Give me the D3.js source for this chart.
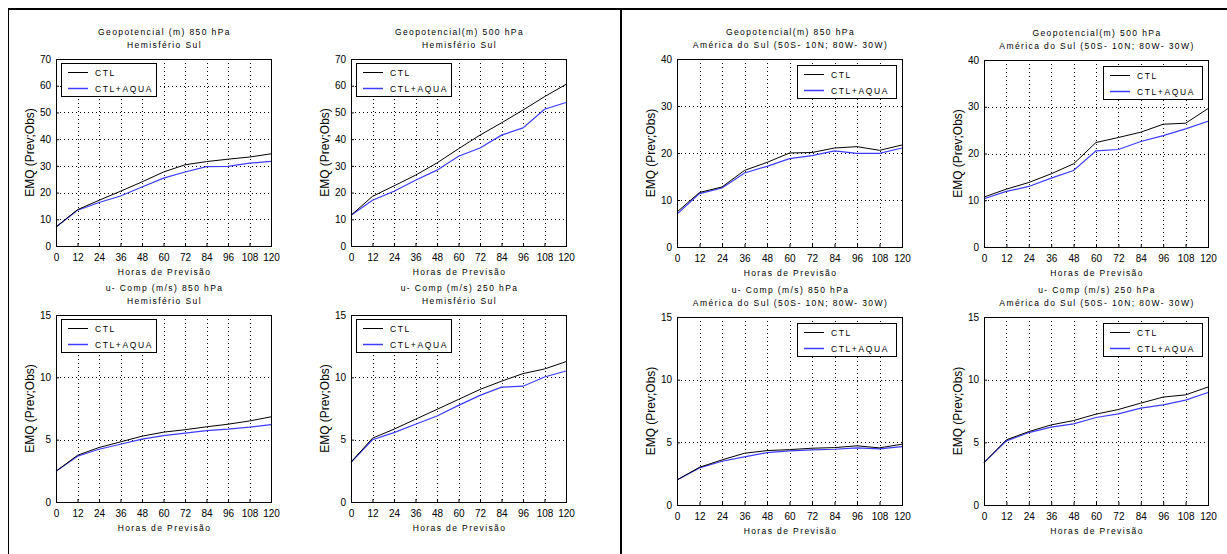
<!DOCTYPE html>
<html>
<head>
<meta charset="utf-8">
<script src="https://cdn.jsdelivr.net/npm/d3@7"></script>
<style>
  html, body { margin: 0; padding: 0; background: #fff; }
  svg { display: block; font-family: "Liberation Sans", Arial, sans-serif; }
</style>
</head>
<body>
<svg id="chart" width="1227" height="554"></svg>
<script>
// ---------------- data ----------------
const hours = [0, 12, 24, 36, 48, 60, 72, 84, 96, 108, 120];
const xTickLabels = ["0","12","24","36","48","60","72","84","96","108","120"];
const seriesNames = ["CTL", "CTL+AQUA"];

const geo850HS_ctl  = [7.1, 13.6, 17.1, 20.5, 24.0, 27.7, 30.4, 31.6, 32.5, 33.3, 34.5];
const geo850HS_aqua = [7.1, 13.4, 16.3, 18.7, 22.1, 25.4, 27.7, 29.7, 29.8, 31.0, 31.7];
const geo500HS_ctl  = [11.5, 18.6, 22.5, 26.5, 31.1, 36.4, 41.5, 46.1, 50.9, 55.9, 60.5];
const geo500HS_aqua = [11.5, 17.1, 20.5, 24.6, 28.4, 33.6, 36.7, 41.5, 44.2, 51.2, 53.7];
const u850HS_ctl    = [2.46, 3.75, 4.37, 4.82, 5.28, 5.60, 5.80, 6.03, 6.24, 6.50, 6.83];
const u850HS_aqua   = [2.46, 3.67, 4.23, 4.63, 5.04, 5.33, 5.52, 5.73, 5.84, 6.00, 6.21];
const u250HS_ctl    = [3.19, 5.12, 5.84, 6.64, 7.43, 8.23, 9.03, 9.69, 10.30, 10.67, 11.26];
const u250HS_aqua   = [3.19, 4.99, 5.57, 6.24, 6.90, 7.75, 8.55, 9.21, 9.29, 10.03, 10.51];

const geo850AS_ctl  = [7.45, 11.6, 12.77, 16.3, 18.0, 20.0, 20.1, 21.06, 21.35, 20.57, 21.7];
const geo850AS_aqua = [7.0, 11.35, 12.55, 15.74, 17.16, 18.8, 19.43, 20.43, 19.93, 19.93, 21.06];
const geo500AS_ctl  = [10.68, 12.38, 13.8, 15.66, 17.8, 22.35, 23.42, 24.56, 26.26, 26.48, 29.6];
const geo500AS_aqua = [10.32, 11.89, 12.95, 14.73, 16.37, 20.57, 20.85, 22.56, 23.84, 25.27, 26.9];
const u850AS_ctl    = [2.0, 3.01, 3.6, 4.13, 4.34, 4.42, 4.53, 4.58, 4.72, 4.56, 4.85];
const u850AS_aqua   = [2.0, 2.96, 3.49, 3.84, 4.18, 4.32, 4.40, 4.45, 4.56, 4.48, 4.66];
const u250AS_ctl    = [3.38, 5.2, 5.86, 6.39, 6.74, 7.25, 7.62, 8.13, 8.61, 8.79, 9.41];
const u250AS_aqua   = [3.38, 5.12, 5.78, 6.21, 6.47, 6.98, 7.27, 7.73, 7.99, 8.37, 8.98];

const yTicks70 = [0, 10, 20, 30, 40, 50, 60, 70];
const yTicks40 = [0, 10, 20, 30, 40];
const yTicks15 = [0, 5, 10, 15];

const titleHS = "Hemisfério Sul";
const titleAS = "América do Sul (50S- 10N; 80W- 30W)";
const xAxisTitle = "Horas de Previsão";
const yAxisTitle = "EMQ (Prev;Obs)";

const panels = [
  { t1: "Geopotencial (m) 850 hPa", t2: titleHS, ymax: 70, yticks: yTicks70, ctl: geo850HS_ctl, aqua: geo850HS_aqua },
  { t1: "Geopotencial(m) 500 hPa",  t2: titleHS, ymax: 70, yticks: yTicks70, ctl: geo500HS_ctl, aqua: geo500HS_aqua },
  { t1: "u- Comp (m/s) 850 hPa",    t2: titleHS, ymax: 15, yticks: yTicks15, ctl: u850HS_ctl,  aqua: u850HS_aqua },
  { t1: "u- Comp (m/s) 250 hPa",    t2: titleHS, ymax: 15, yticks: yTicks15, ctl: u250HS_ctl,  aqua: u250HS_aqua },
  { t1: "Geopotencial(m) 850 hPa",  t2: titleAS, ymax: 40, yticks: yTicks40, ctl: geo850AS_ctl, aqua: geo850AS_aqua },
  { t1: "Geopotencial(m) 500 hPa",  t2: titleAS, ymax: 40, yticks: yTicks40, ctl: geo500AS_ctl, aqua: geo500AS_aqua },
  { t1: "u- Comp (m/s) 850 hPa",    t2: titleAS, ymax: 15, yticks: yTicks15, ctl: u850AS_ctl,  aqua: u850AS_aqua },
  { t1: "u- Comp (m/s) 250 hPa",    t2: titleAS, ymax: 15, yticks: yTicks15, ctl: u250AS_ctl,  aqua: u250AS_aqua }
];

// ---------------- layout (pixel boxes of each plot area) ----------------
const layout = [
  { x0: 56,  x1: 271,  y0: 59,  y1: 246, legend: "left" },
  { x0: 351, x1: 566,  y0: 59,  y1: 246, legend: "left" },
  { x0: 56,  x1: 271,  y0: 315, y1: 502, legend: "left" },
  { x0: 351, x1: 566,  y0: 315, y1: 502, legend: "left" },
  { x0: 677, x1: 902,  y0: 59,  y1: 247, legend: "right" },
  { x0: 984, x1: 1208, y0: 60,  y1: 247, legend: "right" },
  { x0: 677, x1: 902,  y0: 317, y1: 505, legend: "right" },
  { x0: 984, x1: 1208, y0: 317, y1: 505, legend: "right" }
];

const colors = { ctl: "#000000", aqua: "#3c3cff" };

const svg = d3.select("#chart");

// frame
svg.append("line").attr("x1", 8).attr("x2", 1227).attr("y1", 9).attr("y2", 9)
  .attr("stroke", "#000").attr("stroke-width", 2);
svg.append("line").attr("x1", 8.5).attr("x2", 8.5).attr("y1", 8).attr("y2", 554)
  .attr("stroke", "#000").attr("stroke-width", 1);
svg.append("line").attr("x1", 621).attr("x2", 621).attr("y1", 8).attr("y2", 554)
  .attr("stroke", "#000").attr("stroke-width", 2);

panels.forEach((p, i) => {
  const L = layout[i];
  const x = d3.scaleLinear().domain([0, 120]).range([L.x0, L.x1]);
  const y = d3.scaleLinear().domain([0, p.ymax]).range([L.y1, L.y0]);
  const g = svg.append("g");
  const cx = (L.x0 + L.x1) / 2;

  // titles
  [p.t1, p.t2].forEach((t, k) => {
    g.append("text").attr("x", cx + 1).attr("y", L.y0 - (k === 0 ? 24 : 11))
      .attr("text-anchor", "middle").attr("font-size", 8.5)
      .attr("letter-spacing", "1.4px").attr("fill", "#000").text(t);
  });

  // grid
  g.append("g").selectAll("line").data(hours.slice(1, -1)).join("line")
    .attr("x1", d => Math.round(x(d)) + 0.5).attr("x2", d => Math.round(x(d)) + 0.5)
    .attr("y1", L.y0).attr("y2", L.y1)
    .attr("stroke", "#000").attr("stroke-width", 1).attr("stroke-dasharray", "1,3");
  g.append("g").selectAll("line").data(p.yticks.slice(1, -1)).join("line")
    .attr("y1", d => Math.round(y(d)) + 0.5).attr("y2", d => Math.round(y(d)) + 0.5)
    .attr("x1", L.x0).attr("x2", L.x1)
    .attr("stroke", "#000").attr("stroke-width", 1).attr("stroke-dasharray", "1,3");

  // axes
  const xAxis = d3.axisBottom(x).tickValues(hours).tickFormat((d, j) => xTickLabels[j])
    .tickSizeInner(-3).tickSizeOuter(0).tickPadding(8);
  const gx = g.append("g").attr("transform", `translate(0,${L.y1})`).call(xAxis);
  gx.select(".domain").remove();
  gx.selectAll("text").attr("font-size", 10).attr("font-family", "Liberation Sans, Arial, sans-serif").attr("fill", "#000");
  gx.selectAll("line").attr("stroke", "#000");

  const yAxis = d3.axisLeft(y).tickValues(p.yticks).tickFormat(d3.format("d"))
    .tickSizeInner(-3).tickSizeOuter(0).tickPadding(5);
  const gy = g.append("g").attr("transform", `translate(${L.x0},0)`).call(yAxis);
  gy.select(".domain").remove();
  gy.selectAll("text").attr("font-size", 10).attr("font-family", "Liberation Sans, Arial, sans-serif").attr("fill", "#000");
  gy.selectAll("line").attr("stroke", "#000");

  // axis titles
  g.append("text").attr("x", cx + 1).attr("y", L.y1 + 29)
    .attr("text-anchor", "middle").attr("font-size", 8.5)
    .attr("letter-spacing", "1.4px").attr("fill", "#000").text(xAxisTitle);
  g.append("text")
    .attr("transform", `translate(${L.x0 - 22},${(L.y0 + L.y1) / 2}) rotate(-90)`)
    .attr("text-anchor", "middle").attr("font-size", 12).attr("fill", "#000").text(yAxisTitle);

  // lines
  const line = d3.line().x((d, j) => x(hours[j])).y(d => y(d));
  g.append("path").datum(p.aqua).attr("d", line).attr("fill", "none")
    .attr("stroke", colors.aqua).attr("stroke-width", 1.2);
  g.append("path").datum(p.ctl).attr("d", line).attr("fill", "none")
    .attr("stroke", colors.ctl).attr("stroke-width", 1);

  // plot border
  g.append("rect").attr("x", L.x0 + 0.5).attr("y", L.y0 + 0.5)
    .attr("width", L.x1 - L.x0).attr("height", L.y1 - L.y0)
    .attr("fill", "none").attr("stroke", "#000").attr("stroke-width", 1);

  // legend
  const lw = L.legend === "left" ? 95 : 99, lh = 33;
  const lx = L.legend === "left" ? L.x0 + 5 : L.x1 - 6 - lw;
  const ly = L.legend === "left" ? L.y0 + 4 : L.y0 + 6;
  const lg = g.append("g").attr("transform", `translate(${lx},${ly})`);
  lg.append("rect").attr("x", 0.5).attr("y", 0.5).attr("width", lw).attr("height", lh)
    .attr("fill", "#fff").attr("stroke", "#000").attr("stroke-width", 1);
  seriesNames.forEach((name, k) => {
    const yy = 9.5 + k * 16;
    lg.append("line").attr("x1", 7).attr("x2", 27).attr("y1", yy).attr("y2", yy)
      .attr("stroke", k === 0 ? colors.ctl : colors.aqua).attr("stroke-width", k === 0 ? 1 : 1.5);
    lg.append("text").attr("x", 34).attr("y", yy + 3).attr("font-size", 8.5)
      .attr("letter-spacing", "1.6px").attr("fill", "#000").text(name);
  });
});
</script>
</body>
</html>
